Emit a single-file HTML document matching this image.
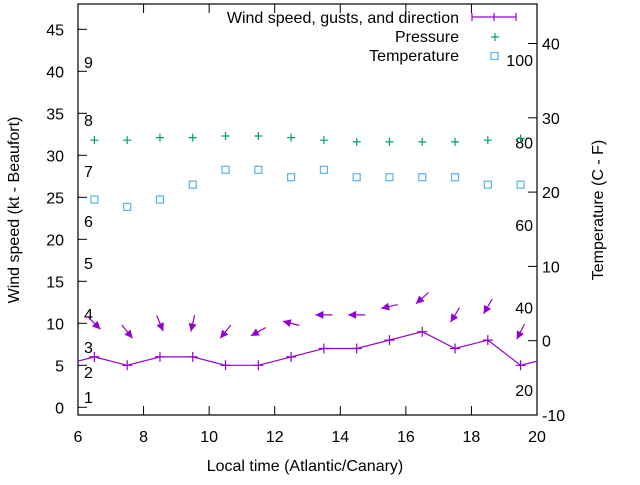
<!DOCTYPE html>
<html><head><meta charset="utf-8"><style>
body{margin:0;background:#fff}
svg{font-family:"Liberation Sans",sans-serif;font-size:16px}
</style></head><body>
<svg id="c" width="640" height="480"></svg>
<script>
const times=[6.5,7.5,8.5,9.5,10.5,11.5,12.5,13.5,14.5,15.5,16.5,17.5,18.5,19.5];
const windTimes=[5.5,6.5,7.5,8.5,9.5,10.5,11.5,12.5,13.5,14.5,15.5,16.5,17.5,18.5,19.5,20.5];
const windSpeed=[5,6,5,6,6,5,5,6,7,7,8,9,7,8,5,6];
const gusts=[10,9,10,10,9,9,10,11,11,12,13,11,12,9];
const windDir=[315,321,337,13,39,61,104,90,90,77,48,32,30,27];
const pressure=[31.8,31.8,32.1,32.1,32.3,32.3,32.1,31.8,31.6,31.6,31.6,31.6,31.8,32.0];
const temperature=[19,18,19,21,23,23,22,23,22,22,22,22,21,21];
const xTicks=[6,8,10,12,14,16,18,20];
const yTicks=[0,5,10,15,20,25,30,35,40,45];
const y2Ticks=[-10,0,10,20,30,40];
const beaufort=[[1,397],[2,372],[3,347],[4,314],[5,263],[6,221],[7,171],[8,120],[9,62]];
const fahr=[20,40,60,80,100];
const X0=78,X1=537,TOP=4,BOT=415;
const sx=t=>X0+(t-6)*(X1-X0)/14;
const sy=v=>407.3-v*8.4;
const sy2=v=>340.7-v*7.43;
const svg=document.getElementById('c');
const NS='http://www.w3.org/2000/svg';
function mk(tag,attrs,parent){const e=document.createElementNS(NS,tag);for(const k in attrs)e.setAttribute(k,attrs[k]);(parent||svg).appendChild(e);return e;}
const defs=mk('defs',{});
const cp=mk('clipPath',{id:'clip'},defs);mk('rect',{x:X0,y:TOP,width:X1-X0,height:BOT-TOP},cp);
const frame=mk('rect',{x:X0,y:TOP,width:X1-X0,height:BOT-TOP,fill:'none',stroke:'#000','stroke-width':1.2});


xTicks.forEach(t=>{const x=sx(t);
 mk('line',{x1:x,y1:BOT,x2:x,y2:BOT-9,stroke:'#000'});mk('line',{x1:x,y1:TOP,x2:x,y2:TOP+9,stroke:'#000'});
 const l=mk('text',{x:x,y:BOT+27,'text-anchor':'middle'});l.textContent=t;
 
 });
yTicks.forEach(v=>{const y=sy(v);mk('line',{x1:X0,y1:y,x2:X0+9,y2:y,stroke:'#000'});
 const l=mk('text',{x:64,y:y+6,'text-anchor':'end'});l.textContent=v;
 
 });
y2Ticks.forEach(v=>{const y=sy2(v);mk('line',{x1:X1,y1:y,x2:X1-9,y2:y,stroke:'#000'});
 const l=mk('text',{x:542,y:y+6,'text-anchor':'start'});l.textContent=v;
 
 });
beaufort.forEach(b=>{const l=mk('text',{x:84,y:b[1]+6});l.textContent=b[0];
 
 });
fahr.forEach(f=>{const l=mk('text',{x:533,y:sy2((f-32)*5/9)+6,'text-anchor':'end'});l.textContent=f;
 
 });
const g=mk('g',{'clip-path':'url(#clip)'});


const pl=mk('polyline',{points:windTimes.map((t,i)=>sx(t)+','+sy(windSpeed[i])).join(' '),fill:'none',stroke:'#9400d3','stroke-width':1.2},g);


windTimes.forEach((t,i)=>{const x=sx(t),y=sy(windSpeed[i]);
 const p=mk('path',{d:`M${x-5} ${y}H${x+5}M${x} ${y-5}V${y+5}`,stroke:'#9400d3','stroke-width':1.2},g);
 
 });
times.forEach((t,i)=>{const cx=sx(t),cy=sy(gusts[i]),L=17,d=windDir[i]*Math.PI/180;
 const dx=-Math.sin(d)*L,dy=Math.cos(d)*L;
 const x1=cx-dx/2,y1=cy-dy/2,x2=cx+dx/2,y2=cy+dy/2;
 const ux=dx/L,uy=dy/L,hl=8,hw=4;
 const bx=x2-ux*hl,by=y2-uy*hl;
 const a=mk('g',{},g);
 
 
 mk('line',{x1:x1,y1:y1,x2:x2,y2:y2,stroke:'#9400d3','stroke-width':1.2},a);
 mk('polygon',{points:`${x2},${y2} ${bx-uy*hw},${by+ux*hw} ${bx+uy*hw},${by-ux*hw}`,fill:'#9400d3'},a);});
times.forEach((t,i)=>{const x=sx(t),y=sy(pressure[i]);
 const p=mk('path',{d:`M${x-4} ${y}H${x+4}M${x} ${y-4}V${y+4}`,stroke:'#009e73','stroke-width':1.2},g);
 
 });
times.forEach((t,i)=>{const x=sx(t),y=sy2(temperature[i]);
 const r=mk('rect',{x:x-3.5,y:y-3.5,width:7,height:7,fill:'none',stroke:'#56b4e9','stroke-width':1.2},g);
 
 });
const lg=mk('g',{});


[['Wind speed, gusts, and direction',23],['Pressure',42],['Temperature',61]].forEach(a=>{const l=mk('text',{x:459,y:a[1],'text-anchor':'end'},lg);l.textContent=a[0];
 
 });
mk('path',{d:'M472 17H516M472 13V21M494 13V21M516 13V21',stroke:'#9400d3','stroke-width':1.2,fill:'none'},lg);
mk('path',{d:'M491 37H499M495 33V41',stroke:'#009e73','stroke-width':1.2},lg);
mk('rect',{x:491,y:52.5,width:7,height:7,fill:'none',stroke:'#56b4e9','stroke-width':1.2},lg);
const t1=mk('text',{x:305,y:471,'text-anchor':'middle'});t1.textContent='Local time (Atlantic/Canary)';


const t2=mk('text',{transform:'translate(19,210) rotate(-90)','text-anchor':'middle'});t2.textContent='Wind speed (kt - Beaufort)';


const t3=mk('text',{transform:'translate(603,210) rotate(-90)','text-anchor':'middle'});t3.textContent='Temperature (C - F)';


</script>
</body></html>
